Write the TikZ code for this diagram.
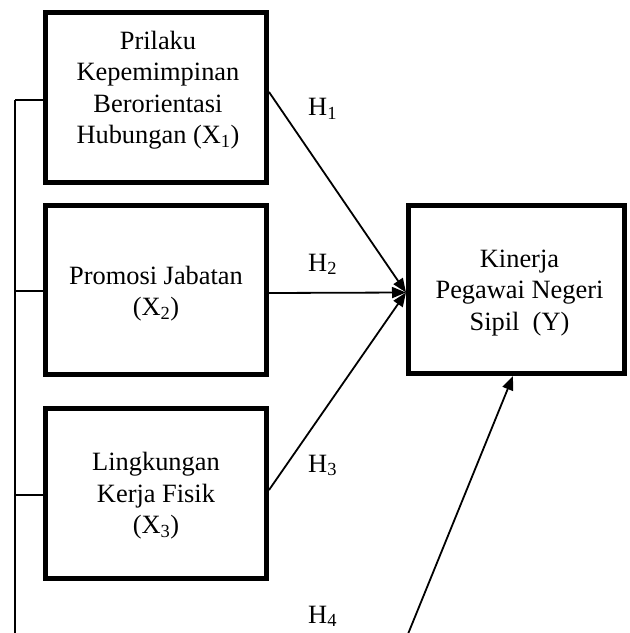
\documentclass[tikz,border=0pt]{standalone}
\usepackage{fontspec}
\setmainfont{Liberation Serif}
\usetikzlibrary{arrows.meta,calc}
\begin{document}
\begin{tikzpicture}[x=1bp,y=-1bp,
  varbox/.style={draw,line width=5bp,minimum width=221bp,minimum height=170bp,inner sep=0pt},
  boxtext/.style={align=center,inner sep=0pt,font=\fontsize{26.5}{31.5}\selectfont},
  hlabel/.style={anchor=base west,inner sep=0pt,font=\fontsize{26.5}{31.5}\selectfont},
  link/.style={line width=1.8bp,-{Triangle[length=14bp,width=11bp]}},
  bracket/.style={line width=1.3bp}]
\useasboundingbox (0,0) rectangle (630,633);
% boxes
\node[varbox] (X1) at (156,97.5) {};
\node[varbox,minimum height=169bp] (X2) at (156,290) {};
\node[varbox] (X3) at (156,493.5) {};
\node[varbox,minimum width=216bp,minimum height=168bp] (Y) at (516.5,289.5) {};
% texts
\node[boxtext] (t1) at (158,90) {Prilaku\\Kepemimpinan\\Berorientasi\\Hubungan (X\textsubscript{1})};
\node[boxtext] (t2) at (156,293.5) {Promosi Jabatan\\(X\textsubscript{2})};
\node[boxtext] (t3) at (156,496) {Lingkungan\\Kerja Fisik\\(X\textsubscript{3})};
\node[boxtext] (ty) at (519.5,293) {Kinerja\\Pegawai Negeri\\Sipil\ \ (Y)};
% hypothesis labels
\node[hlabel] (h1) at (308,116) {H\textsubscript{1}};
\node[hlabel] (h2) at (308,271) {H\textsubscript{2}};
\node[hlabel] (h3) at (308,472) {H\textsubscript{3}};
\node[hlabel] (h4) at (308,623) {H\textsubscript{4}};
% connectors
\coordinate (conv) at ($(Y.west)+(0,3)$);
\draw[link] ($(X1.east)+(0,-5.5)$) -- (conv);
\draw[link] ($(X2.east)+(0,3)$) -- (conv);
\draw[link] ($(X3.east)+(0,-3.5)$) -- (conv);
\coordinate (h4start) at (408,634);
\draw[link] (h4start) -- ($(Y.south)+(-3.5,0)$);
% left bracket
\coordinate (b1) at (15,100);
\coordinate (b2) at (15,291);
\coordinate (b3) at (15,495);
\coordinate (bend) at (15,634);
\draw[bracket] (b1) -- (bend);
\draw[bracket] (b1) -- (b1 -| X1.west);
\draw[bracket] (b2) -- (b2 -| X2.west);
\draw[bracket] (b3) -- (b3 -| X3.west);
\end{tikzpicture}
\end{document}
